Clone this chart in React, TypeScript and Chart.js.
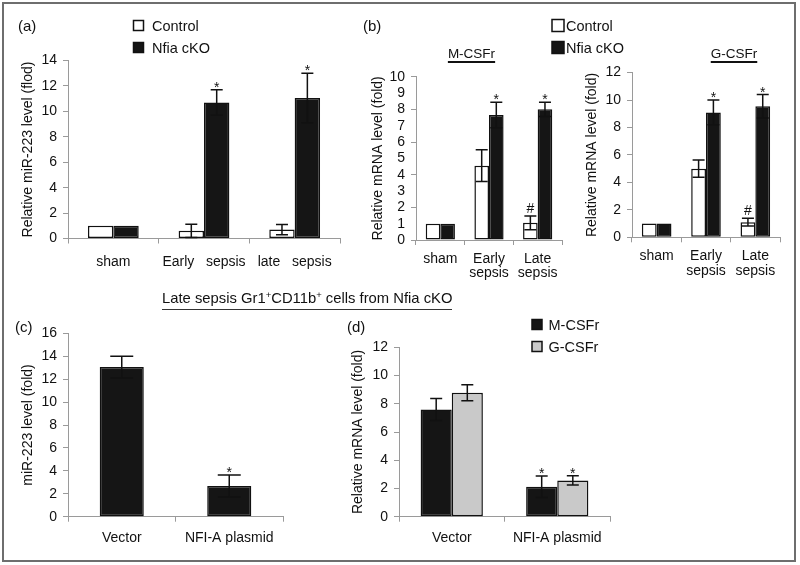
import React, { useEffect, useRef } from 'react';
import { Chart, registerables } from 'chart.js';

Chart.register(...registerables);

const FONT = '"Liberation Sans", Arial, Helvetica, sans-serif';
const INK = '#111111';
const AXIS = '#9a9a9a';

// ---------- (a) ----------
const aCategories = ['sham', 'Early   sepsis', 'late   sepsis'];
const aControl = [1, 0.6, 0.7];
const aControlErr = [0, 0.52, 0.4];
const aControlMarks = ['', '', ''];
const aCko = [1, 10.7, 11.05];
const aCkoErr = [0, 1.0, 1.95];
const aCkoMarks = ['', '*', '*'];
const aYTicks = [0, 2, 4, 6, 8, 10, 12, 14];

// ---------- (b) M-CSFr ----------
const bCategories = [['sham'], ['Early', 'sepsis'], ['Late', 'sepsis']];
const mControl = [1, 4.55, 1.05];
const mControlErr = [0, 0.97, 0.42];
const mControlMarks = ['', '', '#'];
const mCko = [1, 7.65, 8.0];
const mCkoErr = [0, 0.78, 0.43];
const mCkoMarks = ['', '*', '*'];
const mYTicks = [0, 1, 2, 3, 4, 5, 6, 7, 8, 9, 10];

// ---------- (b) G-CSFr ----------
const gControl = [1, 5.0, 1.1];
const gControlErr = [0, 0.63, 0.28];
const gControlMarks = ['', '', '#'];
const gCko = [1, 9.1, 9.55];
const gCkoErr = [0, 0.9, 0.85];
const gCkoMarks = ['', '*', '*'];
const gYTicks = [0, 2, 4, 6, 8, 10, 12];

// ---------- (c) ----------
const cCategories = ['Vector', 'NFI-A plasmid'];
const cValues = [13.05, 2.67];
const cErr = [0.95, 0.96];
const cMarks = ['', '*'];
const cYTicks = [0, 2, 4, 6, 8, 10, 12, 14, 16];

// ---------- (d) ----------
const dCategories = ['Vector', 'NFI-A plasmid'];
const dM = [7.6, 2.12];
const dMErr = [0.78, 0.76];
const dMMarks = ['', '*'];
const dG = [8.78, 2.57];
const dGErr = [0.56, 0.33];
const dGMarks = ['', '*'];
const dYTicks = [0, 2, 4, 6, 8, 10, 12];

const errorBarPlugin = {
  id: 'errorBars',
  afterDatasetsDraw(chart: any, _args: any, opts: any) {
    const ctx = chart.ctx;
    const y = chart.scales.y;
    const cap = opts.cap ?? 12;
    chart.data.datasets.forEach((ds: any, i: number) => {
      const meta = chart.getDatasetMeta(i);
      const errs = ds.errors || [];
      const marks = ds.marks || [];
      meta.data.forEach((bar: any, j: number) => {
        const v = ds.data[j];
        const e = errs[j] || 0;
        const x = bar.x;
        let topPix = y.getPixelForValue(v);
        ctx.save();
        ctx.strokeStyle = INK;
        ctx.lineWidth = 1.5;
        if (e > 0) {
          const hi = y.getPixelForValue(v + e);
          const lo = y.getPixelForValue(v - e);
          ctx.beginPath();
          ctx.moveTo(x, hi);
          ctx.lineTo(x, lo);
          ctx.moveTo(x - cap / 2, hi);
          ctx.lineTo(x + cap / 2, hi);
          ctx.moveTo(x - cap / 2, lo);
          ctx.lineTo(x + cap / 2, lo);
          ctx.stroke();
          topPix = hi;
        }
        const m = marks[j];
        if (m) {
          ctx.fillStyle = INK;
          ctx.font = `14px ${FONT}`;
          ctx.textAlign = 'center';
          ctx.textBaseline = 'alphabetic';
          const off = m === '*' ? 2 : -3;
          ctx.fillText(m, x, topPix + off);
        }
        ctx.restore();
      });
    });
  },
};

const boxLegendPlugin = {
  id: 'boxLegend',
  afterDraw(chart: any, _args: any, opts: any) {
    if (!opts || !opts.show) return;
    const ctx = chart.ctx;
    chart.data.datasets.forEach((ds: any, i: number) => {
      const cy = opts.y + i * opts.rowH;
      ctx.save();
      ctx.fillStyle = ds.backgroundColor;
      ctx.fillRect(opts.x, cy - opts.box / 2, opts.box, opts.box);
      ctx.strokeStyle = INK;
      ctx.lineWidth = 1.5;
      ctx.strokeRect(opts.x, cy - opts.box / 2, opts.box, opts.box);
      ctx.fillStyle = INK;
      ctx.font = `${opts.fontSize}px ${FONT}`;
      ctx.textAlign = 'left';
      ctx.textBaseline = 'middle';
      ctx.fillText(ds.label, opts.textX, cy + 1);
      ctx.restore();
    });
  },
};

type Geo = {
  width: number;
  height: number;
  plotLeft: number;
  plotRight: number;
  plotTop: number;
  plotBottom: number;
  yTicks: number[];
  yTitle: string;
  titleCenterX: number;
  catPad: number;
  catLineHeight: number;
  cap: number;
  oddTicksHidden?: boolean;
  legend?: any;
};

function makeConfig(labels: any[], datasets: any[], g: Geo) {
  const yMax = g.yTicks[g.yTicks.length - 1];
  return {
    type: 'bar',
    data: { labels, datasets },
    plugins: [errorBarPlugin, boxLegendPlugin],
    options: {
      responsive: false,
      animation: false,
      events: [],
      layout: {
        padding: { left: 0, top: g.plotTop, right: g.width - g.plotRight, bottom: 0 },
      },
      plugins: {
        legend: { display: false },
        tooltip: { enabled: false },
        title: { display: false },
        errorBars: { cap: g.cap },
        boxLegend: g.legend ? { show: true, ...g.legend } : { show: false },
      },
      scales: {
        x: {
          type: 'category',
          offset: true,
          afterFit: (s: any) => {
            s.height = g.height - g.plotBottom;
          },
          grid: {
            display: true,
            offset: true,
            drawOnChartArea: false,
            drawTicks: true,
            tickLength: 5,
            color: AXIS,
            lineWidth: 1,
          },
          border: { display: true, color: AXIS, width: 1 },
          ticks: {
            color: INK,
            padding: g.catPad,
            maxRotation: 0,
            autoSkip: false,
            font: { family: FONT, size: 14, lineHeight: g.catLineHeight },
          },
        },
        y: {
          type: 'linear',
          min: 0,
          max: yMax,
          afterFit: (s: any) => {
            s.width = g.plotLeft;
          },
          afterBuildTicks: (s: any) => {
            s.ticks = g.yTicks.map((v) => ({ value: v }));
          },
          grid: {
            display: true,
            drawOnChartArea: false,
            drawTicks: true,
            tickLength: 5,
            lineWidth: 1,
            color: (c: any) =>
              g.oddTicksHidden && c.tick && c.tick.value % 2 === 1 ? 'rgba(0,0,0,0)' : AXIS,
          },
          border: { display: true, color: AXIS, width: 1 },
          ticks: {
            color: INK,
            padding: 6,
            autoSkip: false,
            font: { family: FONT, size: 14 },
          },
          title: {
            display: true,
            text: g.yTitle,
            color: INK,
            font: { family: FONT, size: 14, lineHeight: 1.2 },
            padding: { top: g.titleCenterX - 8.4, bottom: 0 },
          },
        },
      },
    },
  };
}

function bar(label: string, data: number[], errors: number[], marks: string[], fill: string, catPct: number) {
  return {
    label,
    data,
    errors,
    marks,
    backgroundColor: fill,
    borderColor: INK,
    borderWidth: 1.5,
    borderSkipped: false,
    categoryPercentage: catPct,
    barPercentage: 1,
  };
}

function Panel({ left, top, width, height, config }: any) {
  const ref = useRef<HTMLCanvasElement>(null);
  useEffect(() => {
    const chart = new Chart(ref.current as HTMLCanvasElement, config);
    return () => chart.destroy();
  }, []);
  return (
    <canvas
      ref={ref}
      width={width}
      height={height}
      style={{ position: 'absolute', left, top, width, height }}
    />
  );
}

const BLACK = '#151515';
const WHITE = '#ffffff';
const GREY = '#c9c9c9';

const configA = makeConfig(
  aCategories,
  [
    bar('Control', aControl, aControlErr, aControlMarks, WHITE, 0.56),
    bar('Nfia cKO', aCko, aCkoErr, aCkoMarks, BLACK, 0.56),
  ],
  {
    width: 360, height: 290, plotLeft: 68, plotRight: 340, plotTop: 60.5, plotBottom: 238.5,
    yTicks: aYTicks, yTitle: 'Relative miR-223 level (flod)', titleCenterX: 28,
    catPad: 10, catLineHeight: 1.2, cap: 12,
    legend: { x: 133.5, y: 25.5, rowH: 22, box: 10, textX: 152, fontSize: 14.5 },
  }
);

const configM = makeConfig(
  bCategories,
  [
    bar('Control', mControl, mControlErr, mControlMarks, WHITE, 0.6),
    bar('Nfia cKO', mCko, mCkoErr, mCkoMarks, BLACK, 0.6),
  ],
  {
    width: 270, height: 290, plotLeft: 56, plotRight: 202, plotTop: 76.7, plotBottom: 240,
    yTicks: mYTicks, yTitle: 'Relative mRNA level (fold)', titleCenterX: 18.5,
    catPad: 6.5, catLineHeight: 1.05, cap: 12, oddTicksHidden: true,
    legend: { x: 192, y: 25.5, rowH: 22, box: 12, textX: 206, fontSize: 14.5 },
  }
);

const configG = makeConfig(
  bCategories,
  [
    bar('Control', gControl, gControlErr, gControlMarks, WHITE, 0.6),
    bar('Nfia cKO', gCko, gCkoErr, gCkoMarks, BLACK, 0.6),
  ],
  {
    width: 215, height: 290, plotLeft: 52, plotRight: 200, plotTop: 72.6, plotBottom: 237.3,
    yTicks: gYTicks, yTitle: 'Relative mRNA level (fold)', titleCenterX: 12.5,
    catPad: 6.5, catLineHeight: 1.05, cap: 12,
  }
);

const configC = makeConfig(
  cCategories,
  [bar('Late sepsis', cValues, cErr, cMarks, BLACK, 0.41)],
  {
    width: 340, height: 275, plotLeft: 68, plotRight: 283, plotTop: 43.3, plotBottom: 226.7,
    yTicks: cYTicks, yTitle: 'miR-223 level (fold)', titleCenterX: 28,
    catPad: 8.3, catLineHeight: 1.2, cap: 23,
  }
);

const configD = makeConfig(
  dCategories,
  [
    bar('M-CSFr', dM, dMErr, dMMarks, BLACK, 0.59),
    bar('G-CSFr', dG, dGErr, dGMarks, GREY, 0.59),
  ],
  {
    width: 450, height: 275, plotLeft: 59, plotRight: 270, plotTop: 57.3, plotBottom: 226.7,
    yTicks: dYTicks, yTitle: 'Relative mRNA level (fold)', titleCenterX: 18,
    catPad: 8.3, catLineHeight: 1.2, cap: 12,
    legend: { x: 192, y: 34.5, rowH: 22, box: 10, textX: 208.5, fontSize: 14.5 },
  }
);

const textStyle: React.CSSProperties = {
  position: 'absolute',
  fontFamily: FONT,
  color: INK,
  whiteSpace: 'nowrap',
  lineHeight: 1,
};

function Label({ x, y, size, children }: any) {
  return (
    <div style={{ ...textStyle, left: x, top: y, fontSize: size }}>
      {children}
    </div>
  );
}

const subTitle: React.CSSProperties = {
  ...textStyle,
  top: 47,
  fontSize: 13.5,
  transform: 'translateX(-50%)',
  textDecoration: 'underline',
  textUnderlineOffset: 3,
  textDecorationThickness: 1.5,
};

export default function App() {
  useEffect(() => {
    document.body.style.margin = '0';
  }, []);
  return (
    <div style={{ position: 'relative', width: 800, height: 565, background: '#fff', overflow: 'hidden' }}>
      <div
        style={{
          position: 'absolute',
          left: 2,
          top: 2,
          width: 794,
          height: 560,
          boxSizing: 'border-box',
          border: '2px solid #6e6e6e',
        }}
      />
      <Panel left={0} top={0} width={360} height={290} config={configA} />
      <Panel left={360} top={0} width={270} height={290} config={configM} />
      <Panel left={580} top={0} width={215} height={290} config={configG} />
      <Panel left={0} top={290} width={340} height={275} config={configC} />
      <Panel left={340} top={290} width={450} height={275} config={configD} />

      <Label x={18} y={18} size={15}>(a)</Label>
      <Label x={363} y={18} size={15}>(b)</Label>
      <Label x={15} y={319} size={15}>(c)</Label>
      <Label x={347} y={319} size={15}>(d)</Label>

      <div style={{ ...subTitle, left: 471.5 }}>M-CSFr</div>
      <div style={{ ...subTitle, left: 734 }}>G-CSFr</div>

      <div
        style={{
          ...textStyle,
          left: 162,
          top: 290,
          fontSize: 14.8,
          paddingBottom: 3,
          borderBottom: '1.5px solid #333',
        }}
      >
        Late sepsis Gr1<sup style={{ fontSize: 9.5, verticalAlign: 5 }}>+</sup>CD11b<sup style={{ fontSize: 9.5, verticalAlign: 5 }}>+</sup> cells from Nfia cKO
      </div>
    </div>
  );
}
